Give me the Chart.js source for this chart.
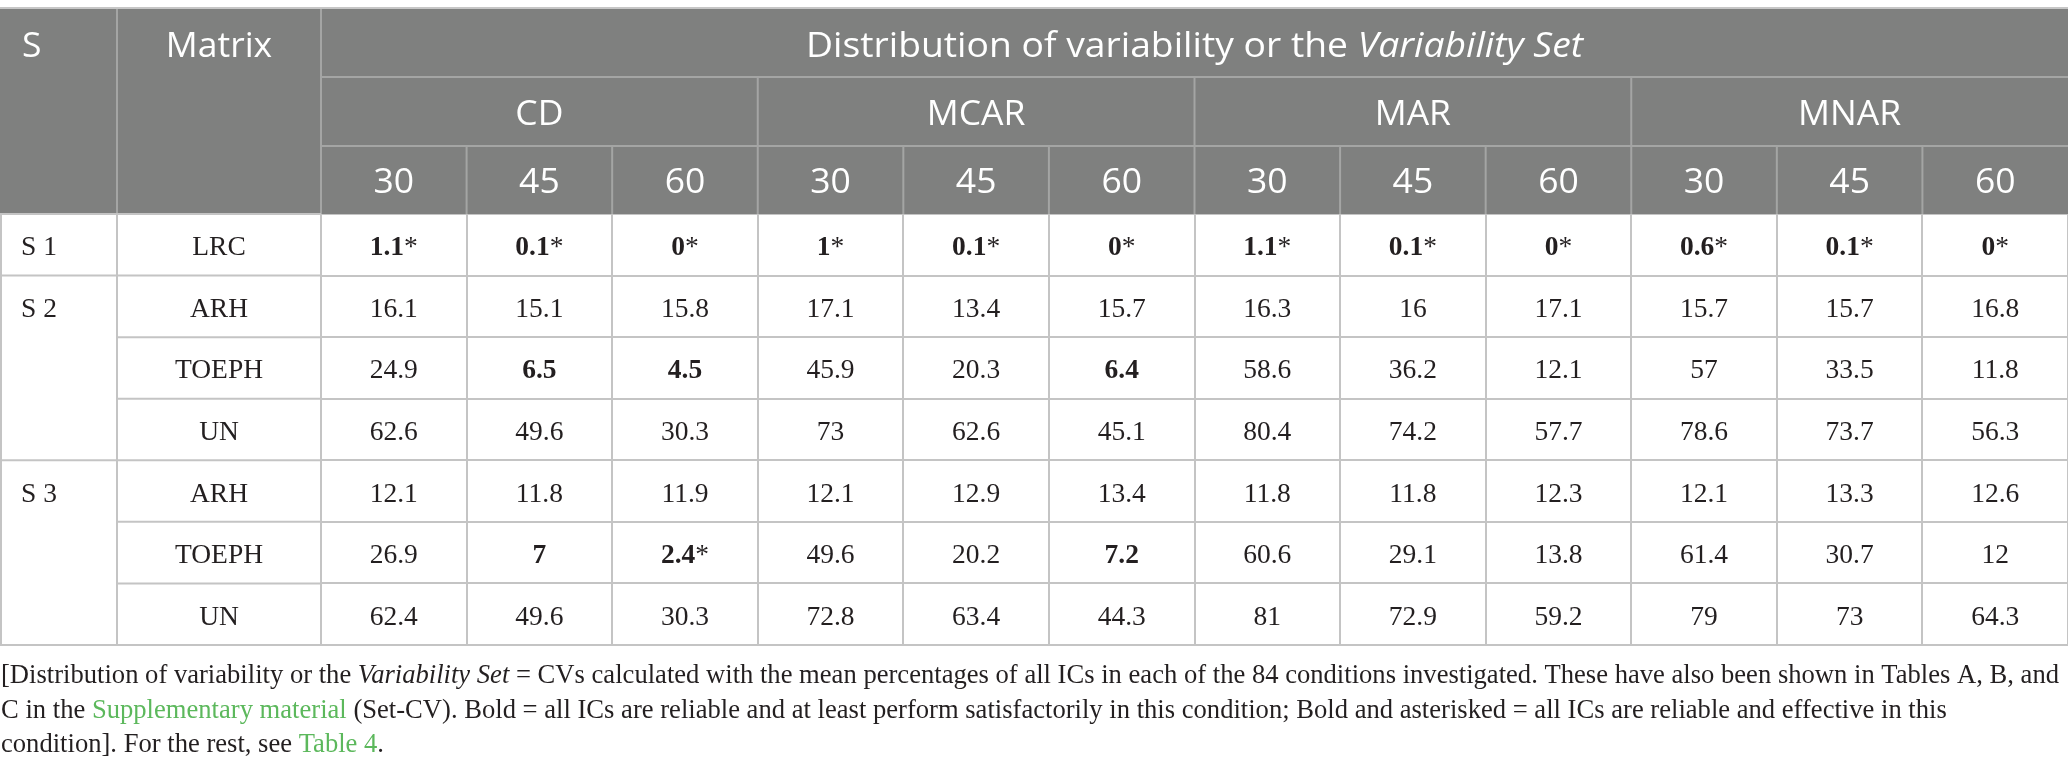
<!DOCTYPE html>
<html>
<head>
<meta charset="utf-8">
<script src="https://cdn.jsdelivr.net/npm/chart.js@4.4.1/dist/chart.umd.min.js"></script>
<style>
html,body{margin:0;padding:0;background:#fff;}
#wrap{width:2068px;height:776px;}
</style>
</head>
<body>
<div id="wrap"><canvas id="c" width="2068" height="776"></canvas></div>
<script>
// ---- data ----
const mechanisms = ["CD", "MCAR", "MAR", "MNAR"];
const percents = ["30", "45", "60"];
const scenarios = ["S 1", "S 2", "S 3"];
const scenarioRowCounts = [1, 3, 3];
const matrices = ["LRC", "ARH", "TOEPH", "UN", "ARH", "TOEPH", "UN"];
const s1LRC   = [1.1, 0.1, 0, 1, 0.1, 0, 1.1, 0.1, 0, 0.6, 0.1, 0];
const s2ARH   = [16.1, 15.1, 15.8, 17.1, 13.4, 15.7, 16.3, 16, 17.1, 15.7, 15.7, 16.8];
const s2TOEPH = [24.9, 6.5, 4.5, 45.9, 20.3, 6.4, 58.6, 36.2, 12.1, 57, 33.5, 11.8];
const s2UN    = [62.6, 49.6, 30.3, 73, 62.6, 45.1, 80.4, 74.2, 57.7, 78.6, 73.7, 56.3];
const s3ARH   = [12.1, 11.8, 11.9, 12.1, 12.9, 13.4, 11.8, 11.8, 12.3, 12.1, 13.3, 12.6];
const s3TOEPH = [26.9, 7, 2.4, 49.6, 20.2, 7.2, 60.6, 29.1, 13.8, 61.4, 30.7, 12];
const s3UN    = [62.4, 49.6, 30.3, 72.8, 63.4, 44.3, 81, 72.9, 59.2, 79, 73, 64.3];
const rows = [s1LRC, s2ARH, s2TOEPH, s2UN, s3ARH, s3TOEPH, s3UN];
// [row, col] markers
const boldCells = [[0,0],[0,1],[0,2],[0,3],[0,4],[0,5],[0,6],[0,7],[0,8],[0,9],[0,10],[0,11],
                   [2,1],[2,2],[2,5],[5,1],[5,2],[5,5]];
const starCells = [[0,0],[0,1],[0,2],[0,3],[0,4],[0,5],[0,6],[0,7],[0,8],[0,9],[0,10],[0,11],[5,2]];
const headerTitle = [["Distribution of variability or the ", false], ["Variability Set", true]];
const headerS = "S";
const headerMatrix = "Matrix";
const footLines = [
  [["[Distribution of variability or the ", "n", "t"], ["Variability Set", "i", "t"],
   [" = CVs calculated with the mean percentages of all ICs in each of the 84 conditions investigated. These have also been shown in Tables A, B, and", "n", "t"]],
  [["C in the ", "n", "t"], ["Supplementary material", "n", "g"],
   [" (Set-CV). Bold = all ICs are reliable and at least perform satisfactorily in this condition; Bold and asterisked = all ICs are reliable and effective in this", "n", "t"]],
  [["condition]. For the rest, see ", "n", "t"], ["Table 4", "n", "g"], [".", "n", "t"]]
];

// ---- layout / style ----
const W = 2068, H = 776;
const colS = 117, colMatrix = 321;
const headTop = 8, head1 = 77, head2 = 146, headBottom = 214;
const tableBottom = 645;
const GREY = "#7f807f", HLINE = "#a4a5a4", GRID = "#c4c4c4", TXT = "#231f20", GREEN = "#5cb85c";
const sansFont = "'Open Sans', 'Noto Sans', sans-serif";
const serifFont = "'Liberation Serif', 'Times New Roman', serif";

const colKeys = [];
mechanisms.forEach(m => percents.forEach(p => colKeys.push(m + " " + p)));
const rowKeys = [];
let mi = 0;
scenarios.forEach((s, si) => { for (let k = 0; k < scenarioRowCounts[si]; k++) { rowKeys.push(s + " " + matrices[mi] + " " + mi); mi++; } });

const isIn = (list, r, c) => list.some(p => p[0] === r && p[1] === c);
const points = [];
rows.forEach((arr, r) => arr.forEach((v, c) => points.push({x: colKeys[c], y: rowKeys[r], v: v, r: r, c: c})));

function drawRuns(ctx, runs, x, y, sx, fontFor, colorFor, align) {
  let total = 0;
  runs.forEach(run => { ctx.font = fontFor(run); total += ctx.measureText(run[0]).width; });
  let start = x;
  if (align === "center") start = x - total * sx / 2;
  ctx.save();
  ctx.translate(start, y);
  ctx.scale(sx, 1);
  let cx = 0;
  runs.forEach(run => {
    ctx.font = fontFor(run);
    ctx.fillStyle = colorFor(run);
    ctx.textAlign = "left";
    ctx.fillText(run[0], cx, 0);
    cx += ctx.measureText(run[0]).width;
  });
  ctx.restore();
  return total;
}

const tablePlugin = {
  id: "tablePlugin",
  beforeDraw(chart) {
    const ctx = chart.ctx;
    ctx.save();
    ctx.fillStyle = "#fff";
    ctx.fillRect(0, 0, W, H);
    ctx.restore();
  },
  afterDraw(chart) {
    const ctx = chart.ctx;
    const xs = chart.scales.x, ys = chart.scales.y;
    const colW = xs.getPixelForValue(1) - xs.getPixelForValue(0);
    const rowH = ys.getPixelForValue(1) - ys.getPixelForValue(0);
    const colLeft = i => xs.getPixelForValue(i) - colW / 2;
    const rowTop = i => ys.getPixelForValue(i) - rowH / 2;
    const dataLeft = colLeft(0), dataRight = colLeft(colKeys.length);

    ctx.save();
    // header background
    ctx.fillStyle = GREY;
    ctx.fillRect(0, headTop, W, headBottom - headTop);
    // header lines
    ctx.strokeStyle = HLINE;
    ctx.lineWidth = 2;
    const line = (x1, y1, x2, y2) => { ctx.beginPath(); ctx.moveTo(x1, y1); ctx.lineTo(x2, y2); ctx.stroke(); };
    line(dataLeft, head1, dataRight, head1);
    line(dataLeft, head2, dataRight, head2);
    line(colS, headTop, colS, headBottom);
    line(dataLeft, headTop, dataLeft, headBottom);
    for (let i = 1; i < colKeys.length; i++) {
      const x = colLeft(i);
      if (i % percents.length === 0) line(x, head1, x, headBottom);
      else line(x, head2, x, headBottom);
    }
    ctx.strokeStyle = "#c6c6c6";
    line(0, headTop, W, headTop);

    // left columns grid (S, Matrix) in body
    ctx.strokeStyle = GRID;
    line(colS, headBottom, colS, tableBottom);
    line(1, headBottom, 1, tableBottom);
    let r0 = 0;
    scenarioRowCounts.forEach((n, si) => {
      line(0, rowTop(r0), dataLeft, rowTop(r0));
      for (let k = 1; k < n; k++) line(colS, rowTop(r0 + k), dataLeft, rowTop(r0 + k));
      r0 += n;
    });
    line(0, rowTop(rows.length), dataLeft, rowTop(rows.length));

    // header texts
    const hSize = 35.5;
    const hFont = it => (it ? "italic " : "") + hSize + "px " + sansFont;
    ctx.textBaseline = "alphabetic";
    drawRuns(ctx, [[headerS, false]], 22, 57, 1, r => hFont(r[1]), () => "#fff", "left");
    drawRuns(ctx, [[headerMatrix, false]], (colS + dataLeft) / 2, 57, 1, r => hFont(r[1]), () => "#fff", "center");
    let tw = 0;
    headerTitle.forEach(run => { ctx.font = hFont(run[1]); tw += ctx.measureText(run[0]).width; });
    const tsx = Math.min(1.06, Math.max(0.94, 777 / tw));
    drawRuns(ctx, headerTitle, (dataLeft + dataRight) / 2, 57, tsx, r => hFont(r[1]), () => "#fff", "center");
    mechanisms.forEach((m, k) => {
      const cx = (colLeft(k * 3) + colLeft(k * 3 + 3)) / 2;
      drawRuns(ctx, [[m, false]], cx, 125, 1, r => hFont(r[1]), () => "#fff", "center");
    });
    colKeys.forEach((key, i) => {
      drawRuns(ctx, [[percents[i % 3], false]], xs.getPixelForValue(i), 193, 1, r => hFont(r[1]), () => "#fff", "center");
    });

    // body left labels
    const bSize = 27.5;
    const bFont = b => (b ? "bold " : "") + bSize + "px " + serifFont;
    r0 = 0;
    scenarios.forEach((s, si) => {
      drawRuns(ctx, [[s, false]], 21, ys.getPixelForValue(r0) + 10.5, 1, r => bFont(false), () => TXT, "left");
      r0 += scenarioRowCounts[si];
    });
    matrices.forEach((m, r) => {
      drawRuns(ctx, [[m, false]], (colS + dataLeft) / 2, ys.getPixelForValue(r) + 10.5, 1, r => bFont(false), () => TXT, "center");
    });

    // cell values from dataset elements
    const meta = chart.getDatasetMeta(0);
    meta.data.forEach((el, i) => {
      const p = points[i];
      const bold = isIn(boldCells, p.r, p.c);
      const star = isIn(starCells, p.r, p.c);
      const runs = [[String(p.v), bold]];
      if (star) runs.push(["*", false]);
      drawRuns(ctx, runs, el.x, el.y + 10.5, 1, r => bFont(r[1]), () => TXT, "center");
    });

    // footnote
    const fSize = 26.6;
    const fFont = run => (run[1] === "i" ? "italic " : "") + fSize + "px " + serifFont;
    const fColor = run => run[2] === "g" ? GREEN : TXT;
    let w1 = 0;
    footLines[0].forEach(run => { ctx.font = fFont(run); w1 += ctx.measureText(run[0]).width; });
    const fsx = Math.min(1.03, Math.max(0.95, 2058 / w1));
    const fy = [683, 718, 752];
    footLines.forEach((runs, li) => drawRuns(ctx, runs, 1, fy[li], fsx, fFont, fColor, "left"));
    ctx.restore();
  }
};

new Chart(document.getElementById("c"), {
  type: "scatter",
  data: {
    datasets: [{
      data: points,
      pointRadius: 0,
      pointHoverRadius: 0,
      showLine: false
    }]
  },
  options: {
    responsive: false,
    devicePixelRatio: 1,
    animation: false,
    events: [],
    layout: { padding: { left: colMatrix, right: 0, top: headBottom, bottom: H - tableBottom } },
    plugins: { legend: { display: false }, tooltip: { enabled: false } },
    scales: {
      x: {
        type: "category", labels: colKeys, offset: true, position: "bottom",
        ticks: { display: false },
        grid: { offset: true, color: GRID, lineWidth: 2, drawTicks: false },
        border: { display: false }
      },
      y: {
        type: "category", labels: rowKeys, offset: true, position: "left",
        ticks: { display: false },
        grid: { offset: true, color: GRID, lineWidth: 2, drawTicks: false },
        border: { display: false }
      }
    }
  },
  plugins: [tablePlugin]
});
</script>
</body>
</html>
